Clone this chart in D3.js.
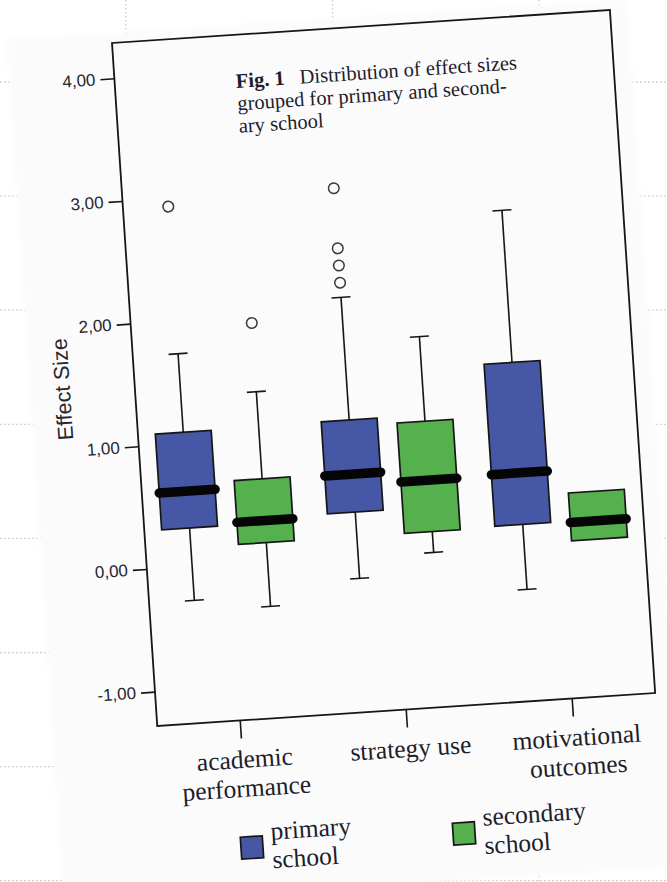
<!DOCTYPE html>
<html>
<head>
<meta charset="utf-8">
<script src="https://cdn.jsdelivr.net/npm/d3@7"></script>
<style>
  html, body { margin: 0; padding: 0; background: #ffffff; overflow: hidden; }
  svg { display: block; }
</style>
</head>
<body>
<svg id="fig" width="667" height="882"></svg>
<script>
// ---- data -------------------------------------------------------------
const categories = ["academic performance", "strategy use", "motivational outcomes"];
const categoryLines = [["academic", "performance"], ["strategy use"], ["motivational", "outcomes"]];
const groups = ["primary school", "secondary school"];
const groupLines = [["primary", "school"], ["secondary", "school"]];

// [lower whisker, Q1, median, Q3, upper whisker] for each category
const primaryStats = [
  [-0.28, 0.31, 0.61, 1.09, 1.73],
  [-0.19, 0.35, 0.66, 1.10, 2.10],
  [-0.37, 0.16, 0.58, 1.48, 2.72]
];
const secondaryStats = [
  [-0.37, 0.15, 0.33, 0.67, 1.38],
  [-0.02, 0.15, 0.57, 1.05, 1.74],
  [0.00, 0.00, 0.15, 0.39, 0.39]
];
const primaryOutliers = [[2.93], [2.22, 2.36, 2.50, 2.99], []];
const secondaryOutliers = [[1.94], [], []];

const yTicks = [-1, 0, 1, 2, 3, 4];
const yTickLabels = ["-1,00", "0,00", "1,00", "2,00", "3,00", "4,00"];
const yDomain = [-1.28, 4.288];

const titleBold = "Fig. 1";
const titleLines = ["Distribution of effect sizes", "grouped for primary and second-", "ary school"];
const yTitle = "Effect Size";
const groupColors = ["#4557a5", "#55b04e"];

// ---- layout -----------------------------------------------------------
const W = 667, H = 882;
const plotW = 499, plotH = 684.5;      // frame of the box plot
const tilt = -3.79;                    // the printed page sits slightly askew
const origin = [112, 43];

const svg = d3.select("#fig");

// slide background with dotted guides
const bg = svg.append("g");
bg.append("rect").attr("width", W).attr("height", H).attr("fill", "#ffffff");
bg.selectAll("line.h").data(d3.range(8)).join("line")
  .attr("x1", 0).attr("x2", W)
  .attr("y1", i => 82 + i * 114.1).attr("y2", i => 82 + i * 114.1)
  .attr("stroke", "#c9c9c9").attr("stroke-width", 1.3)
  .attr("stroke-dasharray", "1.6,2.4");
bg.selectAll("line.v").data(d3.range(3)).join("line")
  .attr("y1", 0).attr("y2", H)
  .attr("x1", i => 126 + i * 206.5).attr("x2", i => 126 + i * 206.5)
  .attr("stroke", "#c9c9c9").attr("stroke-width", 1.3)
  .attr("stroke-dasharray", "1.6,2.4");

const defs = svg.append("defs");
defs.append("filter").attr("id", "soft").attr("x", "-5%").attr("y", "-5%")
  .attr("width", "110%").attr("height", "110%")
  .append("feGaussianBlur").attr("stdDeviation", 2);

const page = svg.append("g")
  .attr("transform", `translate(${origin[0]},${origin[1]}) rotate(${tilt})`);

// the paper sheet
page.append("rect")
  .attr("x", -105).attr("y", -10).attr("width", 622).attr("height", 869)
  .attr("fill", "#fbfbfb").attr("filter", "url(#soft)");

// ---- scales -----------------------------------------------------------
const x = d3.scaleBand().domain(categories).range([0, plotW]).padding(0);
const y = d3.scaleLinear().domain(yDomain).range([plotH, 0]);
const groupOffset = d3.scalePoint().domain(groups).range([-37.8, 37.8]);
const color = d3.scaleOrdinal().domain(groups).range(groupColors);
const boxW = 56, capW = 19;

const ink = "#161616";
const sans = "'Liberation Sans', Arial, Helvetica, sans-serif";
const serif = "'Liberation Serif', 'Times New Roman', Times, serif";

// ---- axes -------------------------------------------------------------
const yAxis = page.append("g")
  .call(d3.axisLeft(y).tickValues(yTicks)
    .tickFormat((d, i) => yTickLabels[i]).tickSize(14).tickPadding(5));
yAxis.select(".domain").remove();
yAxis.selectAll(".tick line").attr("stroke", ink).attr("stroke-width", 1.6);
yAxis.selectAll(".tick text")
  .attr("font-family", sans).attr("font-size", 17).attr("fill", "#262630");

const xAxis = page.append("g").attr("transform", `translate(0,${plotH})`)
  .call(d3.axisBottom(x).tickSize(18).tickFormat(""));
xAxis.select(".domain").remove();
xAxis.selectAll(".tick line").attr("stroke", ink).attr("stroke-width", 1.6);

// category labels
const catLabels = page.append("g");
categories.forEach((c, i) => {
  const t = catLabels.append("text")
    .attr("text-anchor", "middle")
    .attr("font-family", serif).attr("font-size", 25.5).attr("fill", "#1d1d2b");
  categoryLines[i].forEach((line, k) => {
    t.append("tspan")
      .attr("x", x(c) + x.bandwidth() / 2 + 2)
      .attr("y", 732 + k * 29)
      .text(line);
  });
});

// frame
page.append("rect")
  .attr("x", 0).attr("y", 0).attr("width", plotW).attr("height", plotH)
  .attr("fill", "none").attr("stroke", ink).attr("stroke-width", 1.8);

// y title
page.append("text")
  .attr("transform", `translate(-65,${plotH / 2}) rotate(-90)`)
  .attr("text-anchor", "middle")
  .attr("font-family", sans).attr("font-size", 21.5).attr("fill", "#262630")
  .text(yTitle);

// caption inside the frame
const cap = page.append("text")
  .attr("font-family", serif).attr("font-size", 20.5).attr("fill", "#1d1d2b");
cap.append("tspan").attr("x", 121).attr("y", 53)
  .attr("font-weight", "bold").text(titleBold);
cap.append("tspan").attr("x", 185).attr("y", 53).text(titleLines[0]);
cap.append("tspan").attr("x", 121).attr("y", 75.5).text(titleLines[1]);
cap.append("tspan").attr("x", 121).attr("y", 98).text(titleLines[2]);

// ---- boxes ------------------------------------------------------------
const boxes = [];
categories.forEach((c, i) => {
  boxes.push({ cat: c, group: groups[0], s: primaryStats[i], out: primaryOutliers[i] });
  boxes.push({ cat: c, group: groups[1], s: secondaryStats[i], out: secondaryOutliers[i] });
});

const bx = d => x(d.cat) + x.bandwidth() / 2 + groupOffset(d.group);

const gBox = page.append("g").selectAll("g").data(boxes).join("g");

gBox.each(function (d) {
  const g = d3.select(this);
  const cx = bx(d);
  const [lo, q1, med, q3, hi] = d.s;
  // whiskers with end caps
  if (hi > q3) {
    g.append("line").attr("x1", cx).attr("x2", cx).attr("y1", y(hi)).attr("y2", y(q3))
      .attr("stroke", ink).attr("stroke-width", 1.6);
    g.append("line").attr("x1", cx - capW / 2).attr("x2", cx + capW / 2)
      .attr("y1", y(hi)).attr("y2", y(hi)).attr("stroke", ink).attr("stroke-width", 1.6);
  }
  if (lo < q1) {
    g.append("line").attr("x1", cx).attr("x2", cx).attr("y1", y(q1)).attr("y2", y(lo))
      .attr("stroke", ink).attr("stroke-width", 1.6);
    g.append("line").attr("x1", cx - capW / 2).attr("x2", cx + capW / 2)
      .attr("y1", y(lo)).attr("y2", y(lo)).attr("stroke", ink).attr("stroke-width", 1.6);
  }
  // interquartile box
  g.append("rect")
    .attr("x", cx - boxW / 2).attr("width", boxW)
    .attr("y", y(q3)).attr("height", y(q1) - y(q3))
    .attr("fill", color(d.group)).attr("stroke", ink).attr("stroke-width", 1.7);
  // median bar
  g.append("line")
    .attr("x1", cx - boxW / 2).attr("x2", cx + boxW / 2)
    .attr("y1", y(med)).attr("y2", y(med))
    .attr("stroke", "#050505").attr("stroke-width", 9.5).attr("stroke-linecap", "round");
  // outliers
  g.selectAll("circle").data(d.out).join("circle")
    .attr("cx", cx).attr("cy", v => y(v)).attr("r", 5.3)
    .attr("fill", "none").attr("stroke", "#3a3a3a").attr("stroke-width", 1.5);
});

// ---- legend -----------------------------------------------------------
const legendX = [86.5, 299];
const legend = page.append("g").selectAll("g").data(groups).join("g");
legend.append("rect")
  .attr("x", (d, i) => legendX[i] - 11).attr("y", 801)
  .attr("width", 22).attr("height", 22)
  .attr("fill", d => color(d)).attr("stroke", ink).attr("stroke-width", 1.7);
legend.append("text")
  .attr("font-family", serif).attr("font-size", 25.5).attr("fill", "#1d1d2b")
  .each(function (d, i) {
    const t = d3.select(this);
    groupLines[i].forEach((line, k) => {
      t.append("tspan").attr("x", legendX[i] + 19.5).attr("y", 805.5 + k * 28.5).text(line);
    });
  });
</script>
</body>
</html>
